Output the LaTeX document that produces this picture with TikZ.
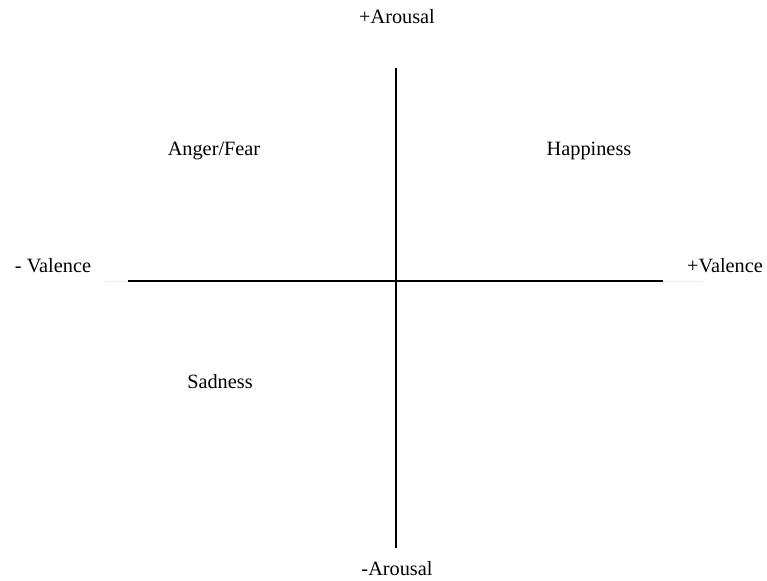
\documentclass[tikz,border=0pt]{standalone}
\usepackage{fontspec}
\setmainfont{Liberation Serif}
\usepackage{tikz}
\usetikzlibrary{positioning,calc}
\definecolor{axiscol}{RGB}{0,0,0}
\definecolor{fadecol}{RGB}{235,235,235}

\begin{document}
\begin{tikzpicture}[x=1pt,y=-1pt]
  \tikzset{lbl/.style={font=\fontsize{20.3}{24}\selectfont,inner sep=0pt,anchor=base}}
  \useasboundingbox (0,0) rectangle (767,580);
  % axes
  \coordinate (top) at (396,68);
  \coordinate (bot) at (396,548);
  \coordinate (lft) at (128,281);
  \coordinate (rgt) at (663,281);
  \coordinate (lfade) at (106,281);
  \coordinate (rfade) at (703,281);
  \draw[fadecol,line width=1pt] (lfade)--(lft);
  \draw[fadecol,line width=1pt] (rgt)--(rfade);
  \draw[axiscol,line width=1.6pt] (top)--(bot);
  \draw[axiscol,line width=1.6pt] (lft)--(rgt);
  % axis labels
  \node[lbl] (aup) at (397,24) {+Arousal};
  \node[lbl] (adown) at (397,575) {-Arousal};
  \node[lbl] (vneg) at (53,272) {- Valence};
  \node[lbl] (vpos) at (725,272) {+Valence};
  % quadrants
  \node[lbl] (anger) at (214,156) {Anger/Fear};
  \node[lbl] (happy) at (589,156) {Happiness};
  \node[lbl] (sad) at (220,388) {Sadness};
\end{tikzpicture}
\end{document}
